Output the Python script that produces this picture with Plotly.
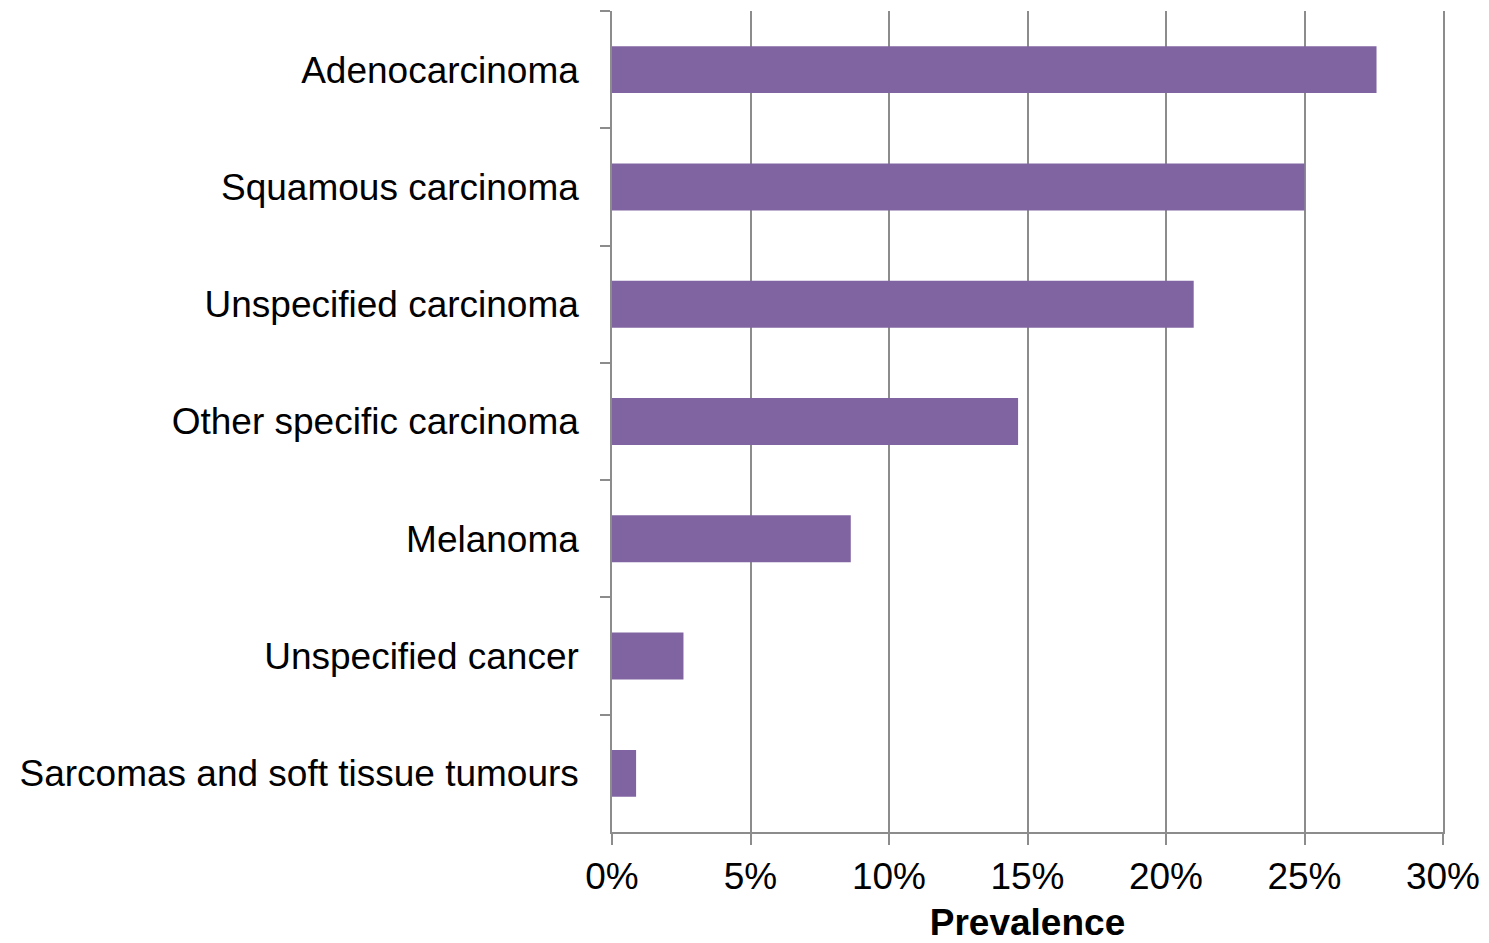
import plotly.graph_objects as go

# Cancer types, listed top to bottom
categories = [
    "Adenocarcinoma",
    "Squamous carcinoma",
    "Unspecified carcinoma",
    "Other specific carcinoma",
    "Melanoma",
    "Unspecified cancer",
    "Sarcomas and soft tissue tumours",
]
prevalence = [27.6, 25.0, 21.0, 14.66, 8.62, 2.58, 0.87]

x_ticks = [0, 5, 10, 15, 20, 25, 30]
x_tick_labels = ["0%", "5%", "10%", "15%", "20%", "25%", "30%"]

FONT = "Liberation Sans, Arial, sans-serif"
GRID = "#8c8c8c"

fig = go.Figure(
    go.Bar(
        x=prevalence,
        y=categories,
        orientation="h",
        width=0.4,
        marker=dict(color="#8064A2", line=dict(width=0)),
    )
)

fig.update_layout(
    width=1489,
    height=943,
    margin=dict(l=612, r=46, t=11, b=111),
    plot_bgcolor="white",
    paper_bgcolor="white",
    showlegend=False,
    font=dict(family=FONT, size=37, color="black"),
)

fig.update_xaxes(
    range=[0, 30],
    tickvals=x_ticks,
    ticktext=x_tick_labels,
    showgrid=True,
    gridcolor=GRID,
    gridwidth=1.5,
    zeroline=False,
    showline=True,
    linecolor=GRID,
    linewidth=1.5,
    ticks="outside",
    ticklen=11,
    tickwidth=1.5,
    tickcolor=GRID,
    ticklabelstandoff=0,
    automargin=False,
    title=dict(text="<b>Prevalence</b>", font=dict(size=37), standoff=22),
)

# the mirrored line on the right closes the frame at the 30% gridline
fig.update_yaxes(
    categoryorder="array",
    categoryarray=categories,
    autorange="reversed",
    showgrid=False,
    zeroline=False,
    showline=True,
    mirror=True,
    linecolor=GRID,
    linewidth=1.5,
    ticks="outside",
    tickson="boundaries",
    ticklen=10,
    tickwidth=1.5,
    tickcolor=GRID,
    ticklabelstandoff=24,
    automargin=False,
)

fig.write_html("out.html")
